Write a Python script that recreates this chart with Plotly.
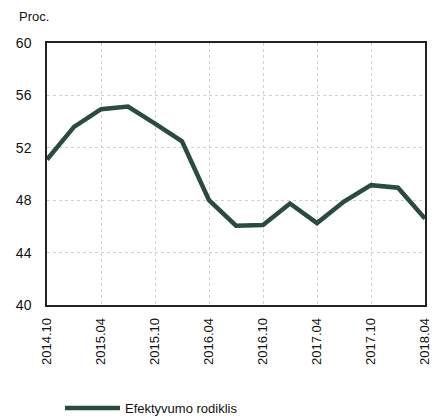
import plotly.graph_objects as go

periods = ["2014.10", "2015.01", "2015.04", "2015.07", "2015.10", "2016.01", "2016.04",
           "2016.07", "2016.10", "2017.01", "2017.04", "2017.07", "2017.10", "2018.01", "2018.04"]
values = [51.1, 53.6, 54.95, 55.15, 53.85, 52.5, 48.0,
          46.05, 46.1, 47.75, 46.25, 47.9, 49.15, 48.95, 46.6]
tick_labels = periods[::2]
series_name = "Efektyvumo rodiklis"
line_color = "#2a4b3d"

fig = go.Figure()
fig.add_trace(go.Scatter(x=periods, y=values, mode="lines", name=series_name,
                         line=dict(color=line_color, width=4.5)))

font_family = "Liberation Sans, Arial, sans-serif"
L, R, T, B = 47, 14, 43, 114
pw, ph = 444 - L - R, 419 - T - B
fig.update_layout(
    width=444, height=419,
    margin=dict(l=L, r=R, t=T, b=B),
    paper_bgcolor="white", plot_bgcolor="white",
    font=dict(family=font_family, color="#111111"),
    showlegend=True,
    legend=dict(orientation="h", xref="container", yref="container",
                x=60 / 444, y=(419 - 408) / 419, xanchor="left", yanchor="middle",
                font=dict(size=13, family=font_family), itemwidth=55,
                bgcolor="rgba(0,0,0,0)"),
    xaxis=dict(type="category", range=[0, len(periods) - 1],
               tickmode="array", tickvals=tick_labels, ticktext=tick_labels,
               tickangle=-90, tickfont=dict(size=13),
               showgrid=True, gridcolor="#d0d0d0", griddash="dot", gridwidth=1,
               showline=True, linecolor="#222222", linewidth=1.5, mirror=True,
               ticks="outside", ticklen=6, tickcolor="rgba(0,0,0,0)", zeroline=False),
    yaxis=dict(range=[40, 60], dtick=4, tick0=40, tickfont=dict(size=14),
               showgrid=True, gridcolor="#d0d0d0", griddash="dot", gridwidth=1,
               showline=True, linecolor="#222222", linewidth=1.5, mirror=True,
               ticks="outside", ticklen=11, tickcolor="rgba(0,0,0,0)", zeroline=False),
    annotations=[dict(text="Proc.", xref="paper", yref="paper",
                      x=(17 - L) / pw, y=(419 - B - 16) / ph, xanchor="left", yanchor="middle",
                      showarrow=False, font=dict(size=13, family=font_family))],
)

fig.write_html("out.html")
